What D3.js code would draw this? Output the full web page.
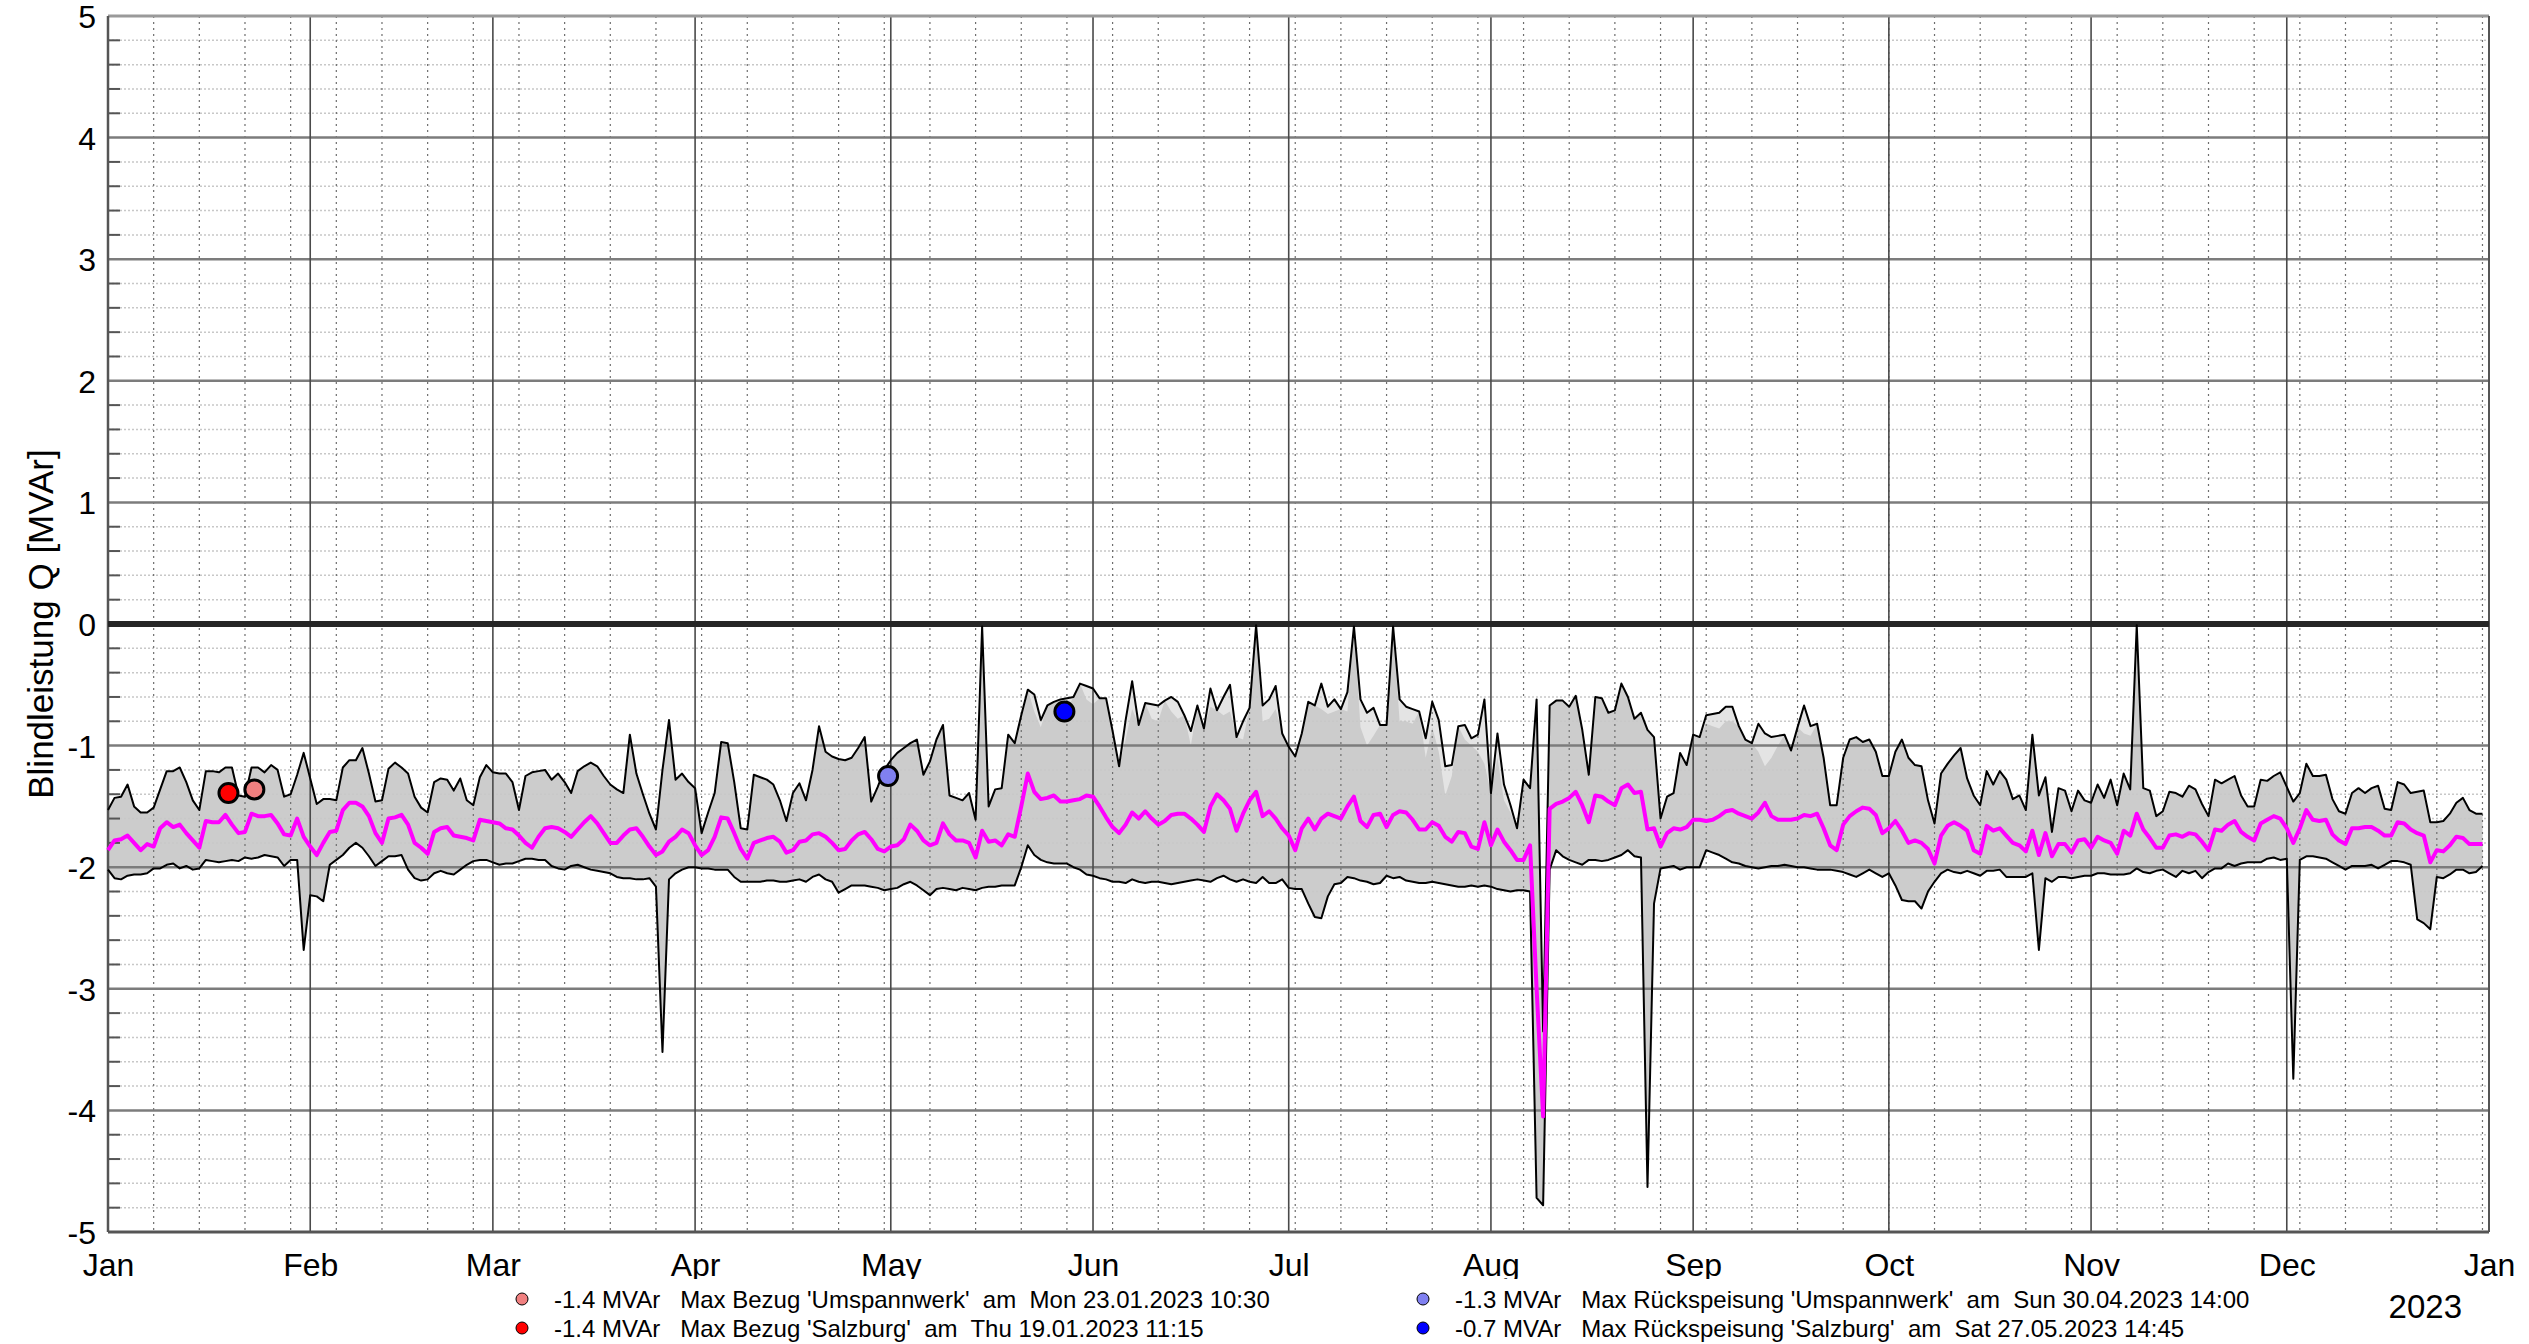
<!DOCTYPE html>
<html><head><meta charset="utf-8">
<script src="https://cdn.jsdelivr.net/npm/d3@7"></script>
<style>
body{margin:0;background:#fff}
svg{display:block}
text{font-family:"Liberation Sans",Arial,Helvetica,sans-serif;fill:#000}
</style>
</head><body>
<svg id="chart" width="2529" height="1344"></svg>
<script>
// ---------------- DATA ----------------
const startDate = Date.UTC(2023, 0, 1);
const endDate = Date.UTC(2024, 0, 1);

// daily max (upper envelope) [MVAr], one value per day from 1 Jan 2023
const upperQ = [
-1.53,-1.43,-1.42,-1.32,-1.50,-1.55,-1.55,-1.51,-1.36,-1.21,
-1.21,-1.18,-1.30,-1.45,-1.53,-1.21,-1.21,-1.22,-1.18,-1.18,
-1.41,-1.42,-1.18,-1.18,-1.22,-1.16,-1.20,-1.42,-1.40,-1.24,
-1.06,-1.27,-1.48,-1.44,-1.44,-1.45,-1.18,-1.12,-1.12,-1.02,
-1.23,-1.46,-1.45,-1.19,-1.14,-1.18,-1.23,-1.42,-1.51,-1.55,
-1.30,-1.27,-1.28,-1.37,-1.27,-1.45,-1.49,-1.26,-1.16,-1.22,
-1.23,-1.23,-1.30,-1.53,-1.25,-1.22,-1.21,-1.20,-1.28,-1.23,
-1.30,-1.39,-1.21,-1.17,-1.14,-1.17,-1.25,-1.32,-1.36,-1.39,
-0.91,-1.23,-1.40,-1.56,-1.69,-1.20,-0.79,-1.28,-1.23,-1.30,
-1.35,-1.72,-1.55,-1.39,-0.97,-0.98,-1.30,-1.68,-1.69,-1.24,
-1.26,-1.28,-1.32,-1.45,-1.62,-1.39,-1.31,-1.45,-1.20,-0.84,
-1.05,-1.09,-1.11,-1.12,-1.10,-1.02,-0.93,-1.46,-1.34,-1.20,
-1.12,-1.06,-1.02,-0.98,-0.95,-1.24,-1.13,-0.95,-0.83,-1.41,
-1.43,-1.45,-1.39,-1.61,-0.02,-1.50,-1.36,-1.35,-0.91,-0.98,
-0.75,-0.54,-0.58,-0.79,-0.67,-0.64,-0.62,-0.61,-0.60,-0.49,
-0.51,-0.53,-0.61,-0.61,-0.88,-1.17,-0.79,-0.47,-0.83,-0.65,
-0.66,-0.67,-0.63,-0.60,-0.64,-0.75,-0.88,-0.67,-0.86,-0.53,
-0.71,-0.60,-0.50,-0.93,-0.80,-0.69,-0.01,-0.67,-0.62,-0.51,
-0.90,-1.01,-1.09,-0.90,-0.64,-0.67,-0.49,-0.68,-0.62,-0.70,
-0.56,-0.02,-0.62,-0.73,-0.69,-0.83,-0.83,-0.02,-0.62,-0.68,
-0.70,-0.72,-0.94,-0.64,-0.79,-1.17,-1.16,-0.84,-0.83,-0.94,
-0.91,-0.62,-1.39,-0.90,-1.32,-1.49,-1.68,-1.28,-1.35,-0.62,
-3.35,-0.67,-0.63,-0.63,-0.68,-0.59,-0.87,-1.24,-0.60,-0.61,
-0.73,-0.71,-0.49,-0.60,-0.78,-0.73,-0.87,-0.93,-1.60,-1.42,
-1.39,-1.06,-1.16,-0.91,-0.93,-0.75,-0.74,-0.73,-0.68,-0.68,
-0.84,-0.95,-0.98,-0.82,-0.90,-0.93,-0.92,-0.91,-1.04,-0.85,
-0.67,-0.84,-0.82,-1.10,-1.49,-1.49,-1.10,-0.95,-0.93,-0.97,
-0.95,-1.05,-1.25,-1.25,-1.05,-0.95,-1.10,-1.16,-1.17,-1.45,
-1.64,-1.23,-1.15,-1.08,-1.02,-1.27,-1.41,-1.49,-1.21,-1.32,
-1.21,-1.28,-1.44,-1.41,-1.53,-0.91,-1.41,-1.26,-1.71,-1.35,
-1.37,-1.54,-1.37,-1.45,-1.47,-1.32,-1.43,-1.28,-1.49,-1.23,
-1.36,-0.01,-1.35,-1.37,-1.58,-1.54,-1.38,-1.39,-1.42,-1.33,
-1.36,-1.48,-1.58,-1.28,-1.31,-1.28,-1.25,-1.41,-1.50,-1.50,
-1.28,-1.29,-1.25,-1.22,-1.34,-1.46,-1.39,-1.15,-1.25,-1.25,
-1.24,-1.44,-1.54,-1.56,-1.39,-1.35,-1.39,-1.35,-1.33,-1.52,
-1.53,-1.30,-1.32,-1.39,-1.38,-1.37,-1.63,-1.63,-1.62,-1.56,
-1.47,-1.43,-1.53,-1.56,-1.56
];

// daily min (lower envelope) [MVAr]
const lowerQ = [
-2.02,-2.09,-2.10,-2.07,-2.06,-2.06,-2.05,-2.01,-2.01,-1.98,
-1.97,-2.01,-1.99,-2.02,-2.01,-1.94,-1.95,-1.96,-1.95,-1.94,
-1.95,-1.92,-1.93,-1.92,-1.90,-1.91,-1.92,-1.99,-1.94,-1.94,
-2.68,-2.23,-2.24,-2.28,-1.98,-1.94,-1.90,-1.84,-1.80,-1.84,
-1.91,-1.99,-1.95,-1.91,-1.91,-1.90,-2.02,-2.09,-2.11,-2.10,
-2.05,-2.03,-2.05,-2.06,-2.02,-1.98,-1.95,-1.94,-1.94,-1.96,
-1.98,-1.97,-1.97,-1.95,-1.93,-1.93,-1.94,-1.94,-1.99,-2.01,
-2.02,-1.99,-1.98,-2.00,-2.02,-2.03,-2.04,-2.05,-2.08,-2.09,
-2.09,-2.10,-2.10,-2.09,-2.16,-3.52,-2.10,-2.05,-2.02,-2.00,
-2.00,-2.01,-2.01,-2.02,-2.02,-2.02,-2.08,-2.12,-2.12,-2.12,
-2.12,-2.11,-2.11,-2.12,-2.12,-2.11,-2.10,-2.12,-2.08,-2.06,
-2.10,-2.12,-2.21,-2.18,-2.15,-2.15,-2.15,-2.16,-2.17,-2.19,
-2.18,-2.17,-2.14,-2.12,-2.15,-2.19,-2.23,-2.18,-2.17,-2.18,
-2.19,-2.17,-2.18,-2.19,-2.17,-2.16,-2.16,-2.15,-2.15,-2.15,
-2.00,-1.82,-1.90,-1.94,-1.96,-1.97,-1.97,-1.97,-2.00,-2.02,
-2.06,-2.07,-2.09,-2.10,-2.12,-2.12,-2.13,-2.10,-2.12,-2.13,
-2.12,-2.12,-2.13,-2.14,-2.13,-2.12,-2.11,-2.10,-2.11,-2.12,
-2.09,-2.07,-2.10,-2.12,-2.10,-2.12,-2.13,-2.08,-2.13,-2.13,
-2.10,-2.17,-2.18,-2.18,-2.30,-2.41,-2.42,-2.24,-2.14,-2.13,
-2.08,-2.09,-2.11,-2.12,-2.14,-2.13,-2.07,-2.09,-2.08,-2.11,
-2.12,-2.13,-2.13,-2.12,-2.13,-2.14,-2.15,-2.16,-2.16,-2.15,
-2.16,-2.15,-2.16,-2.18,-2.19,-2.20,-2.19,-2.19,-2.20,-4.72,
-4.78,-2.02,-1.86,-1.91,-1.94,-1.96,-1.98,-1.94,-1.94,-1.95,
-1.94,-1.92,-1.90,-1.86,-1.91,-1.92,-4.63,-2.30,-2.01,-2.00,
-1.99,-2.02,-2.00,-2.00,-2.00,-1.86,-1.88,-1.90,-1.93,-1.96,
-1.97,-1.99,-2.00,-2.01,-2.00,-1.99,-1.99,-1.98,-1.99,-2.00,
-2.00,-2.01,-2.02,-2.02,-2.02,-2.03,-2.04,-2.06,-2.08,-2.05,
-2.02,-2.05,-2.08,-2.05,-2.15,-2.27,-2.28,-2.28,-2.34,-2.20,
-2.12,-2.05,-2.02,-2.04,-2.05,-2.03,-2.05,-2.07,-2.03,-2.03,
-2.02,-2.08,-2.08,-2.08,-2.08,-2.05,-2.68,-2.09,-2.12,-2.08,
-2.08,-2.09,-2.08,-2.07,-2.07,-2.05,-2.05,-2.06,-2.06,-2.06,
-2.05,-2.01,-2.04,-2.05,-2.03,-2.02,-2.05,-2.08,-2.03,-2.05,
-2.03,-2.09,-2.04,-2.01,-2.01,-1.97,-1.99,-1.97,-1.96,-1.96,
-1.96,-1.93,-1.92,-1.94,-1.93,-3.74,-1.94,-1.91,-1.91,-1.92,
-1.93,-1.96,-1.99,-2.02,-1.99,-1.99,-1.99,-1.98,-2.01,-1.98,
-1.95,-1.95,-1.96,-1.98,-2.43,-2.46,-2.51,-2.08,-2.09,-2.06,
-2.02,-2.02,-2.05,-2.04,-1.99
];

// daily mean [MVAr]
const meanQ = [
-1.86,-1.78,-1.77,-1.74,-1.80,-1.86,-1.81,-1.83,-1.68,-1.63,
-1.67,-1.65,-1.72,-1.78,-1.84,-1.62,-1.63,-1.63,-1.57,-1.65,
-1.72,-1.71,-1.56,-1.58,-1.58,-1.57,-1.64,-1.73,-1.74,-1.60,
-1.75,-1.83,-1.90,-1.80,-1.71,-1.70,-1.53,-1.47,-1.47,-1.50,
-1.58,-1.72,-1.80,-1.60,-1.59,-1.57,-1.65,-1.80,-1.84,-1.89,
-1.71,-1.68,-1.67,-1.74,-1.75,-1.76,-1.78,-1.61,-1.62,-1.63,
-1.64,-1.68,-1.69,-1.74,-1.80,-1.84,-1.75,-1.68,-1.67,-1.68,
-1.71,-1.75,-1.69,-1.63,-1.58,-1.64,-1.72,-1.80,-1.80,-1.74,
-1.69,-1.68,-1.75,-1.83,-1.90,-1.87,-1.79,-1.75,-1.69,-1.72,
-1.82,-1.90,-1.86,-1.75,-1.59,-1.60,-1.72,-1.85,-1.93,-1.80,
-1.78,-1.76,-1.75,-1.79,-1.88,-1.86,-1.79,-1.78,-1.73,-1.72,
-1.75,-1.80,-1.86,-1.85,-1.78,-1.73,-1.71,-1.77,-1.85,-1.87,
-1.83,-1.82,-1.77,-1.65,-1.70,-1.78,-1.82,-1.80,-1.64,-1.73,
-1.78,-1.78,-1.80,-1.92,-1.70,-1.79,-1.78,-1.82,-1.73,-1.75,
-1.50,-1.23,-1.38,-1.44,-1.43,-1.41,-1.46,-1.46,-1.45,-1.44,
-1.41,-1.42,-1.50,-1.59,-1.67,-1.72,-1.65,-1.55,-1.60,-1.54,
-1.60,-1.65,-1.62,-1.57,-1.56,-1.56,-1.60,-1.65,-1.71,-1.50,
-1.40,-1.45,-1.52,-1.70,-1.56,-1.45,-1.38,-1.58,-1.54,-1.60,
-1.68,-1.74,-1.86,-1.68,-1.60,-1.69,-1.60,-1.56,-1.58,-1.60,
-1.50,-1.42,-1.62,-1.67,-1.57,-1.56,-1.67,-1.57,-1.54,-1.55,
-1.61,-1.69,-1.69,-1.63,-1.66,-1.75,-1.79,-1.71,-1.72,-1.83,
-1.85,-1.63,-1.82,-1.69,-1.79,-1.86,-1.94,-1.94,-1.82,-3.00,
-4.05,-1.52,-1.48,-1.46,-1.43,-1.38,-1.49,-1.63,-1.41,-1.42,
-1.46,-1.49,-1.35,-1.32,-1.39,-1.38,-1.69,-1.68,-1.83,-1.72,
-1.68,-1.69,-1.67,-1.61,-1.61,-1.62,-1.61,-1.58,-1.54,-1.53,
-1.56,-1.58,-1.60,-1.55,-1.47,-1.58,-1.61,-1.61,-1.61,-1.60,
-1.57,-1.58,-1.56,-1.68,-1.82,-1.86,-1.65,-1.58,-1.54,-1.51,
-1.52,-1.57,-1.72,-1.68,-1.62,-1.70,-1.80,-1.78,-1.80,-1.85,
-1.97,-1.74,-1.66,-1.63,-1.66,-1.70,-1.86,-1.89,-1.66,-1.70,
-1.68,-1.74,-1.80,-1.82,-1.87,-1.70,-1.90,-1.72,-1.91,-1.81,
-1.81,-1.88,-1.78,-1.77,-1.84,-1.75,-1.78,-1.80,-1.89,-1.70,
-1.74,-1.56,-1.69,-1.76,-1.84,-1.84,-1.74,-1.73,-1.75,-1.72,
-1.73,-1.79,-1.86,-1.69,-1.70,-1.65,-1.62,-1.71,-1.75,-1.78,
-1.64,-1.61,-1.58,-1.60,-1.68,-1.80,-1.68,-1.53,-1.61,-1.62,
-1.61,-1.73,-1.78,-1.81,-1.68,-1.68,-1.67,-1.67,-1.70,-1.74,
-1.74,-1.63,-1.64,-1.69,-1.72,-1.74,-1.96,-1.86,-1.87,-1.82,
-1.75,-1.76,-1.81,-1.81,-1.81
];

// days where the second station's daily max lies clearly below the envelope (lighter band)
const innerDays = [142,143,147,150,151,156,157,160,161,163,164,166,169,171,172,174,177,178,179,
  186,187,188,190,192,193,194,198,199,200,202,203,204,205,206,208,209,210,211,213,214,215,
  245,246,247,248,249,253,254,255,256,260,261];
const innerTop = [-0.72,-0.85,-0.70,-0.62,-0.66,-0.95,-0.70,-0.78,-0.80,-0.72,-0.78,-1.00,-0.68,-0.75,-0.72,-0.95,-0.80,-0.78,-0.70,
  -0.70,-0.74,-0.72,-0.72,-0.85,-1.00,-0.92,-0.80,-0.80,-0.82,-1.10,-0.85,-1.05,-1.41,-1.25,-0.95,-1.00,-1.05,-1.15,-1.10,-1.45,-1.55,
  -0.82,-0.84,-0.86,-0.80,-0.80,-1.05,-1.17,-1.10,-1.00,-0.90,-0.92];

const yTickValues = [5,4,3,2,1,0,-1,-2,-3,-4,-5];
const monthLabels = ["Jan","Feb","Mar","Apr","May","Jun","Jul","Aug","Sep","Oct","Nov","Dec","Jan"];
const yearLabel = "2023";
const yTitle = "Blindleistung Q [MVAr]";

// extreme points (markers)
const markerTimes = ["2023-01-23T10:30:00Z","2023-01-19T11:15:00Z","2023-04-30T14:00:00Z","2023-05-27T14:45:00Z"];
const markerValues = [-1.36,-1.39,-1.25,-0.72];
const markerColors = ["#f08080","#ff0000","#8080f0","#0000ff"];
const legendLabels = [
  "-1.4 MVAr   Max Bezug 'Umspannwerk'  am  Mon 23.01.2023 10:30",
  "-1.4 MVAr   Max Bezug 'Salzburg'  am  Thu 19.01.2023 11:15",
  "-1.3 MVAr   Max Rückspeisung 'Umspannwerk'  am  Sun 30.04.2023 14:00",
  "-0.7 MVAr   Max Rückspeisung 'Salzburg'  am  Sat 27.05.2023 14:45"
];

// ---------------- LAYOUT ----------------
const W = 2529, H = 1344;
const L = 108, R = 2489, T = 16, B = 1232;

const svg = d3.select("#chart");
svg.append("rect").attr("width", W).attr("height", H).attr("fill", "#fff");

const x = d3.scaleUtc().domain([startDate, endDate]).range([L, R]);
const y = d3.scaleLinear().domain([-5, 5]).range([B, T]);

const innerMap = new Map(innerDays.map((d, i) => [d, innerTop[i]]));
const days = upperQ.map((_, i) => d3.utcDay.offset(new Date(startDate), i));
const rows = days.map((d, i) => ({
  d, hi: upperQ[i], lo: lowerQ[i], m: meanQ[i],
  hi2: innerMap.has(i) ? innerMap.get(i) : upperQ[i]
}));

// outer (light) band and inner (darker) band
svg.append("path").datum(rows).attr("fill", "#e4e4e4")
  .attr("d", d3.area().x(r => x(r.d)).y0(r => y(r.lo)).y1(r => y(r.hi)));
svg.append("path").datum(rows).attr("fill", "#cccccc")
  .attr("d", d3.area().x(r => x(r.d)).y0(r => y(r.lo)).y1(r => y(r.hi2)));

// minor horizontal grid (dotted)
const minorY = d3.range(-50, 51, 2).map(v => v / 10).filter(v => Math.abs(v - Math.round(v)) > 1e-6);
svg.append("g").selectAll("line").data(minorY).join("line")
  .attr("x1", L).attr("x2", R)
  .attr("y1", d => y(d)).attr("y2", d => y(d))
  .attr("stroke", "#c8c8c8").attr("stroke-width", 1.5).attr("stroke-dasharray", "2,2");

// minor vertical grid (weekly, dotted)
const weeks = d3.utcSunday.range(d3.utcDay.offset(new Date(startDate), 1), new Date(endDate));
svg.append("g").selectAll("line").data(weeks).join("line")
  .attr("x1", d => x(d)).attr("x2", d => x(d))
  .attr("y1", T).attr("y2", B)
  .attr("stroke", "#6e6e6e").attr("stroke-width", 1.2).attr("stroke-dasharray", "2,4");

// major horizontal grid
svg.append("g").selectAll("line").data(yTickValues.filter(v => v !== 0 && v !== 5 && v !== -5)).join("line")
  .attr("x1", L).attr("x2", R)
  .attr("y1", d => y(d)).attr("y2", d => y(d))
  .attr("stroke", "#7c7c7c").attr("stroke-width", 2.5);

// major vertical grid (months)
const months = x.ticks(d3.utcMonth.every(1));
svg.append("g").selectAll("line").data(months.slice(1, -1)).join("line")
  .attr("x1", d => x(d)).attr("x2", d => x(d))
  .attr("y1", T).attr("y2", B)
  .attr("stroke", "#4a4a4a").attr("stroke-width", 1.6);

// frame
svg.append("line").attr("x1", L).attr("x2", R).attr("y1", T).attr("y2", T).attr("stroke", "#9a9a9a").attr("stroke-width", 3);
svg.append("line").attr("x1", R).attr("x2", R).attr("y1", T).attr("y2", B).attr("stroke", "#555").attr("stroke-width", 2);
svg.append("line").attr("x1", L).attr("x2", R).attr("y1", B).attr("y2", B).attr("stroke", "#555").attr("stroke-width", 3);
svg.append("line").attr("x1", L).attr("x2", L).attr("y1", T).attr("y2", B).attr("stroke", "#555").attr("stroke-width", 2.5);

// minor y ticks on left axis
svg.append("g").selectAll("line").data(minorY).join("line")
  .attr("x1", L).attr("x2", L + 12)
  .attr("y1", d => y(d)).attr("y2", d => y(d))
  .attr("stroke", "#555").attr("stroke-width", 2);

// zero line
svg.append("line").attr("x1", L).attr("x2", R).attr("y1", y(0)).attr("y2", y(0))
  .attr("stroke", "#262626").attr("stroke-width", 6);

// envelope lines and mean
const lineHi = d3.line().x(r => x(r.d)).y(r => y(r.hi));
const lineLo = d3.line().x(r => x(r.d)).y(r => y(r.lo));
const lineM = d3.line().x(r => x(r.d)).y(r => y(r.m));
svg.append("path").datum(rows).attr("fill", "none").attr("stroke", "#000").attr("stroke-width", 2).attr("stroke-linejoin", "round").attr("d", lineHi);
svg.append("path").datum(rows).attr("fill", "none").attr("stroke", "#000").attr("stroke-width", 2).attr("stroke-linejoin", "round").attr("d", lineLo);
svg.append("path").datum(rows).attr("fill", "none").attr("stroke", "#ff00ff").attr("stroke-width", 4).attr("stroke-linejoin", "round").attr("d", lineM);

// markers on chart
const markers = markerTimes.map((t, i) => ({t: new Date(t), v: markerValues[i], c: markerColors[i]}));
svg.append("g").selectAll("circle").data(markers).join("circle")
  .attr("cx", d => x(d.t)).attr("cy", d => y(d.v)).attr("r", 9.5)
  .attr("fill", d => d.c).attr("stroke", "#000").attr("stroke-width", 3);

// y axis labels
const yAxis = d3.axisLeft(y).tickValues(yTickValues).tickSize(0).tickPadding(12).tickFormat(d => String(d));
const ga = svg.append("g").attr("transform", `translate(${L},0)`).call(yAxis);
ga.select(".domain").remove();
ga.selectAll("text").attr("font-size", 32).attr("font-family", "Liberation Sans, Arial, sans-serif").attr("fill", "#000").attr("dy", "0.36em");

// y title
svg.append("text")
  .attr("transform", `translate(53,${(T + B) / 2}) rotate(-90)`)
  .attr("text-anchor", "middle").attr("font-size", 35)
  .text(yTitle);

// x axis labels (descenders clipped like the original)
svg.append("defs").append("clipPath").attr("id", "xclip")
  .append("rect").attr("x", 0).attr("y", B).attr("width", W).attr("height", 1279 - B);
const clipWrap = svg.append("g").attr("clip-path", "url(#xclip)");
const xAxis = d3.axisBottom(x).tickValues(months).tickSize(0).tickPadding(18)
  .tickFormat((d, i) => monthLabels[i]);
const gx = clipWrap.append("g").attr("transform", `translate(0,${B})`).call(xAxis);
gx.select(".domain").remove();
gx.selectAll("text").attr("font-size", 32).attr("font-family", "Liberation Sans, Arial, sans-serif").attr("fill", "#000")
  .attr("dy", null).attr("y", 44);

// year label
svg.append("text").attr("x", 2462).attr("y", 1318).attr("text-anchor", "end").attr("font-size", 33).text(yearLabel);

// legend
const legX = [522, 522, 1423, 1423];
const legY = [1299, 1328, 1299, 1328];
const lg = svg.append("g");
legendLabels.forEach((lab, i) => {
  lg.append("circle").attr("cx", legX[i]).attr("cy", legY[i]).attr("r", 6)
    .attr("fill", markerColors[i]).attr("stroke", "#000").attr("stroke-width", 1);
  lg.append("text").attr("x", legX[i] + 32).attr("y", legY[i] + 8.5)
    .attr("font-size", 24).style("white-space", "pre").text(lab);
});
</script>
</body></html>
